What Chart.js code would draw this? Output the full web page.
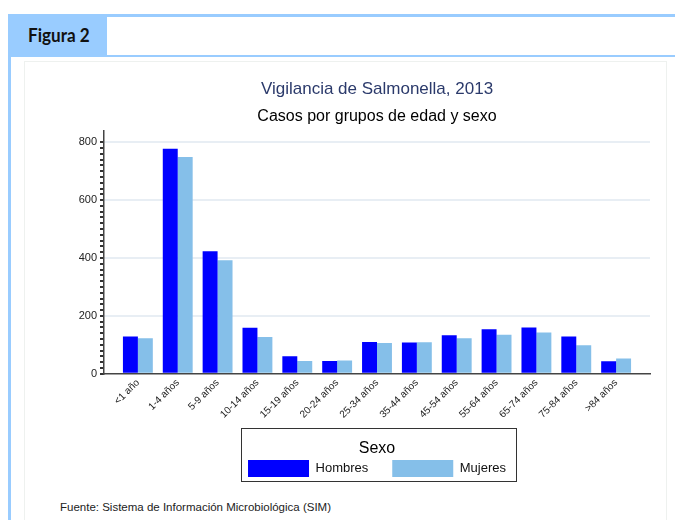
<!DOCTYPE html>
<html>
<head>
<meta charset="utf-8">
<script src="https://cdn.jsdelivr.net/npm/chart.js@4.4.1/dist/chart.umd.min.js"></script>
<style>
  body { margin: 0; width: 675px; height: 520px; position: relative; overflow: hidden; background: #fff;
         font-family: 'Liberation Sans', Arial, sans-serif; }
  .topline { position: absolute; left: 8px; top: 14px; width: 667px; height: 3px; background: #99ccff; }
  .tab { position: absolute; left: 8px; top: 14px; width: 99px; height: 42px; background: #99ccff; }
  .tab span { position: absolute; left: 20px; top: 9px; font-family: Lato, sans-serif; font-weight: 700;
              font-size: 19px; color: #111; transform-origin: left center; transform: scaleX(0.9); }
  .underline { position: absolute; left: 8px; top: 55px; width: 667px; height: 2px; background: #99ccff; }
  .leftline { position: absolute; left: 8px; top: 55px; width: 3px; height: 470px; background: #99ccff; }
  .frame { position: absolute; left: 24px; top: 61px; width: 641px; height: 470px; border: 1px solid #eef1ef; }
  #wrap { position: absolute; left: 24px; top: 62px; width: 641px; height: 429px; }
  .fuente { position: absolute; left: 60px; top: 501px; font-size: 11.5px; color: #222; }
</style>
</head>
<body>
<div class="topline"></div>
<div class="tab"><span>Figura 2</span></div>
<div class="underline"></div>
<div class="leftline"></div>
<div class="frame"></div>
<div id="wrap"><canvas id="chart"></canvas></div>
<div class="fuente">Fuente: Sistema de Información Microbiológica (SIM)</div>

<script>
  // grupos de edad
  const ageGroups = ['<1 año', '1-4 años', '5-9 años', '10-14 años', '15-19 años', '20-24 años',
    '25-34 años', '35-44 años', '45-54 años', '55-64 años', '65-74 años', '75-84 años', '>84 años'];
  const hombres = [129, 777, 423, 159, 61, 44, 110, 108, 133, 154, 160, 129, 43];
  const mujeres = [123, 749, 392, 127, 44, 46, 106, 109, 123, 135, 143, 99, 53];
  const yMajorTicks = [0, 200, 400, 600, 800];
  const yMinorStep = 20;
  const yMax = 840;

  const FONT = "'Liberation Sans', Arial, sans-serif";

  // rectangle round the legend, like the Stata key box
  const legendBox = {
    id: 'legendBox',
    afterDraw(chart) {
      const lg = chart.legend;
      if (!lg || !lg.legendHitBoxes || !lg.legendHitBoxes.length) return;
      const boxes = lg.legendHitBoxes;
      const x0 = Math.min(...boxes.map(b => b.left)) - 7;
      const x1 = Math.max(...boxes.map(b => b.left + b.width)) + 10;
      const y0 = lg.top;
      const y1 = Math.max(...boxes.map(b => b.top + b.height)) + 4;
      const c = chart.ctx;
      c.save();
      c.strokeStyle = '#333';
      c.lineWidth = 1;
      c.strokeRect(Math.round(x0) + 0.5, Math.round(y0) + 0.5, Math.round(x1 - x0), Math.round(y1 - y0));
      c.restore();
    }
  };

  new Chart(document.getElementById('chart'), {
    type: 'bar',
    data: {
      datasets: [
        {
          label: 'Hombres',
          data: hombres.map((v, i) => ({ x: i, y: v })),
          backgroundColor: '#0000ff',
          categoryPercentage: 0.75,
          barPercentage: 1
        },
        {
          label: 'Mujeres',
          data: mujeres.map((v, i) => ({ x: i, y: v })),
          backgroundColor: '#85bfe9',
          categoryPercentage: 0.75,
          barPercentage: 1
        }
      ]
    },
    options: {
      responsive: true,
      maintainAspectRatio: false,
      animation: false,
      layout: { padding: { left: 0, right: 15, top: 0, bottom: 4 } },
      plugins: {
        title: {
          display: true,
          text: 'Vigilancia de Salmonella, 2013',
          color: '#2b3a6b',
          fullSize: false,
          font: { family: FONT, size: 17, weight: 'normal' },
          padding: { top: 17, bottom: 8 }
        },
        subtitle: {
          display: true,
          text: 'Casos por grupos de edad y sexo',
          color: '#000',
          fullSize: false,
          font: { family: FONT, size: 16, weight: 'normal' },
          padding: { top: 0, bottom: 4 }
        },
        legend: {
          position: 'bottom',
          fullSize: false,
          title: {
            display: true,
            text: 'Sexo',
            color: '#000',
            font: { family: FONT, size: 16 },
            padding: { top: 13, bottom: -24 }
          },
          labels: {
            boxWidth: 61,
            boxHeight: 17,
            padding: 24,
            color: '#111',
            font: { family: FONT, size: 13 }
          }
        },
        tooltip: { enabled: false }
      },
      scales: {
        x: {
          type: 'linear',
          offset: false,
          min: -0.85,
          max: ageGroups.length - 1 + 0.85,
          afterBuildTicks: (s) => { s.ticks = ageGroups.map((_, i) => ({ value: i })); },
          afterFit: (s) => { s.height = 54; },
          grid: { display: false, drawTicks: false },
          border: { color: '#444', width: 1.5 },
          ticks: {
            autoSkip: false,
            minRotation: 45,
            maxRotation: 45,
            padding: 3,
            color: '#222',
            font: { family: FONT, size: 10 },
            callback: (v) => ageGroups[v]
          }
        },
        y: {
          min: 0,
          max: yMax,
          afterBuildTicks: (s) => {
            const t = [];
            for (let v = 0; v <= yMajorTicks[yMajorTicks.length - 1]; v += yMinorStep) t.push({ value: v });
            s.ticks = t;
          },
          afterFit: (s) => { s.width = 80; },
          grid: {
            color: (c) => (c.tick && c.tick.value > 0 && yMajorTicks.includes(c.tick.value)) ? '#e8eef4' : 'rgba(0,0,0,0)',
            lineWidth: 2,
            tickColor: '#333',
            tickLength: 4
          },
          border: { color: '#444', width: 1.5 },
          ticks: {
            autoSkip: false,
            padding: 3,
            color: '#222',
            font: { family: FONT, size: 11 },
            callback: (v) => yMajorTicks.includes(v) ? String(v) : ''
          }
        }
      }
    },
    plugins: [legendBox]
  });
</script>
</body>
</html>
